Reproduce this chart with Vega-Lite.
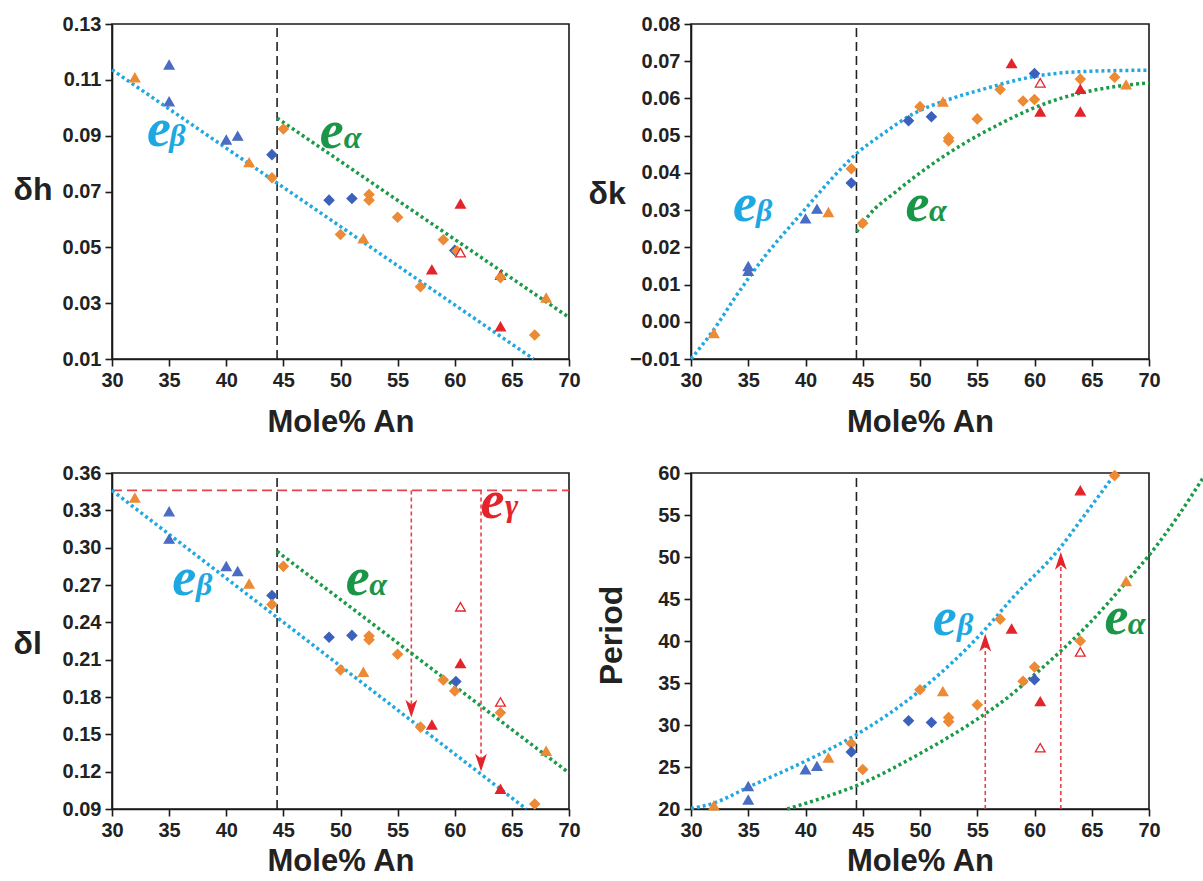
{
"$schema":"https://vega.github.io/schema/vega-lite/v6.json",
"background":"white",
"padding":{"left":12,"top":13,"right":5,"bottom":5},
"config":{
 "view":{"stroke":"#1a1a1a","strokeWidth":1.6},
 "axis":{"grid":false,"domainColor":"#1a1a1a","domainWidth":1.6,"tickColor":"#1a1a1a","tickWidth":1.6,"tickSize":7,"labelFont":"Liberation Sans","labelFontSize":20,"labelFontWeight":"bold","labelColor":"#222","labelPadding":4,"labelOverlap":false,"titleFont":"Liberation Sans","titleFontSize":31,"titleFontWeight":"bold","titleColor":"#222"},
 "axisX":{"titlePadding":17,"labelFlush":false},
 "axisY":{"titleFontSize":32}
},
"datasets":{
 "pts":[
  {"panel":"dh","kind":"oT","x":32,"y":0.1108},{"panel":"dh","kind":"bT","x":35,"y":0.1154},{"panel":"dh","kind":"bT","x":35,"y":0.1022},{"panel":"dh","kind":"bT","x":40,"y":0.0885},{"panel":"dh","kind":"bT","x":41,"y":0.0899},{"panel":"dh","kind":"oT","x":42,"y":0.0804},{"panel":"dh","kind":"bD","x":44,"y":0.0832},{"panel":"dh","kind":"oD","x":44,"y":0.0749},{"panel":"dh","kind":"oD","x":45,"y":0.0924},{"panel":"dh","kind":"bD","x":49,"y":0.0669},{"panel":"dh","kind":"bD","x":51,"y":0.0675},{"panel":"dh","kind":"oD","x":52.5,"y":0.0689},{"panel":"dh","kind":"oD","x":52.5,"y":0.0669},{"panel":"dh","kind":"oD","x":50,"y":0.0546},{"panel":"dh","kind":"oT","x":52,"y":0.0531},{"panel":"dh","kind":"oD","x":55,"y":0.0608},{"panel":"dh","kind":"oD","x":57,"y":0.0359},{"panel":"dh","kind":"rT","x":58,"y":0.042},{"panel":"dh","kind":"oD","x":59,"y":0.0527},{"panel":"dh","kind":"bD","x":60,"y":0.0489},{"panel":"dh","kind":"oD","x":60.2,"y":0.0487},{"panel":"dh","kind":"rO","x":60.5,"y":0.0481},{"panel":"dh","kind":"rT","x":60.5,"y":0.0656},{"panel":"dh","kind":"rT","x":64,"y":0.040},{"panel":"dh","kind":"oD","x":64,"y":0.0391},{"panel":"dh","kind":"rT","x":64,"y":0.0216},{"panel":"dh","kind":"oD","x":67,"y":0.0186},{"panel":"dh","kind":"oT","x":68,"y":0.0319},
  {"panel":"dk","kind":"oT","x":32,"y":-0.0031},{"panel":"dk","kind":"bT","x":35,"y":0.0149},{"panel":"dk","kind":"bT","x":35,"y":0.0136},{"panel":"dk","kind":"bT","x":40,"y":0.0277},{"panel":"dk","kind":"bT","x":41,"y":0.0303},{"panel":"dk","kind":"oT","x":42,"y":0.0294},{"panel":"dk","kind":"oD","x":44,"y":0.0411},{"panel":"dk","kind":"bD","x":44,"y":0.0373},{"panel":"dk","kind":"oD","x":45,"y":0.0265},{"panel":"dk","kind":"bD","x":49,"y":0.054},{"panel":"dk","kind":"bD","x":51,"y":0.0551},{"panel":"dk","kind":"oD","x":50,"y":0.0578},{"panel":"dk","kind":"oT","x":52,"y":0.0591},{"panel":"dk","kind":"oD","x":52.5,"y":0.0494},{"panel":"dk","kind":"oD","x":52.5,"y":0.0486},{"panel":"dk","kind":"oD","x":55,"y":0.0545},{"panel":"dk","kind":"oD","x":57,"y":0.0624},{"panel":"dk","kind":"rT","x":58,"y":0.0694},{"panel":"dk","kind":"oD","x":59,"y":0.0593},{"panel":"dk","kind":"oD","x":60,"y":0.0597},{"panel":"dk","kind":"bD","x":60,"y":0.0667},{"panel":"dk","kind":"rO","x":60.5,"y":0.0642},{"panel":"dk","kind":"rT","x":60.5,"y":0.0564},{"panel":"dk","kind":"oD","x":64,"y":0.0652},{"panel":"dk","kind":"rT","x":64,"y":0.0625},{"panel":"dk","kind":"rT","x":64,"y":0.0564},{"panel":"dk","kind":"oD","x":67,"y":0.0657},{"panel":"dk","kind":"oT","x":68,"y":0.0637},
  {"panel":"dl","kind":"oT","x":32,"y":0.340},{"panel":"dl","kind":"bT","x":35,"y":0.329},{"panel":"dl","kind":"bT","x":35,"y":0.307},{"panel":"dl","kind":"bT","x":40,"y":0.285},{"panel":"dl","kind":"bT","x":41,"y":0.281},{"panel":"dl","kind":"oT","x":42,"y":0.271},{"panel":"dl","kind":"bD","x":44,"y":0.2616},{"panel":"dl","kind":"oD","x":44,"y":0.2544},{"panel":"dl","kind":"oD","x":45,"y":0.285},{"panel":"dl","kind":"bD","x":49,"y":0.228},{"panel":"dl","kind":"bD","x":51,"y":0.2295},{"panel":"dl","kind":"oD","x":52.5,"y":0.229},{"panel":"dl","kind":"oD","x":52.5,"y":0.226},{"panel":"dl","kind":"oD","x":50,"y":0.2017},{"panel":"dl","kind":"oT","x":52,"y":0.200},{"panel":"dl","kind":"oD","x":55,"y":0.2143},{"panel":"dl","kind":"oD","x":57,"y":0.1558},{"panel":"dl","kind":"rT","x":58,"y":0.1576},{"panel":"dl","kind":"oD","x":59,"y":0.1937},{"panel":"dl","kind":"bD","x":60.1,"y":0.1924},{"panel":"dl","kind":"oD","x":60,"y":0.1849},{"panel":"dl","kind":"rT","x":60.5,"y":0.207},{"panel":"dl","kind":"rO","x":60.5,"y":0.2525},{"panel":"dl","kind":"rO","x":64,"y":0.176},{"panel":"dl","kind":"oD","x":64,"y":0.1673},{"panel":"dl","kind":"rT","x":64,"y":0.106},{"panel":"dl","kind":"oD","x":67,"y":0.094},{"panel":"dl","kind":"oT","x":68,"y":0.1365},
  {"panel":"per","kind":"oT","x":32,"y":20.4},{"panel":"per","kind":"bT","x":35,"y":22.7},{"panel":"per","kind":"bT","x":35,"y":21.1},{"panel":"per","kind":"bT","x":40,"y":24.7},{"panel":"per","kind":"bT","x":41,"y":25.1},{"panel":"per","kind":"oT","x":42,"y":26.1},{"panel":"per","kind":"oD","x":44,"y":27.8},{"panel":"per","kind":"bD","x":44,"y":26.8},{"panel":"per","kind":"oD","x":45,"y":24.7},{"panel":"per","kind":"bD","x":49,"y":30.5},{"panel":"per","kind":"bD","x":51,"y":30.3},{"panel":"per","kind":"oD","x":50,"y":34.2},{"panel":"per","kind":"oT","x":52,"y":34.0},{"panel":"per","kind":"oD","x":52.5,"y":30.9},{"panel":"per","kind":"oD","x":52.5,"y":30.4},{"panel":"per","kind":"oD","x":55,"y":32.4},{"panel":"per","kind":"oD","x":57,"y":42.6},{"panel":"per","kind":"rT","x":58,"y":41.45},{"panel":"per","kind":"oD","x":59,"y":35.2},{"panel":"per","kind":"oD","x":60,"y":36.9},{"panel":"per","kind":"bD","x":60,"y":35.4},{"panel":"per","kind":"rT","x":60.5,"y":32.8},{"panel":"per","kind":"rO","x":60.5,"y":27.3},{"panel":"per","kind":"rT","x":64,"y":57.9},{"panel":"per","kind":"oD","x":64,"y":40.0},{"panel":"per","kind":"rO","x":64,"y":38.7},{"panel":"per","kind":"oD","x":67,"y":59.7},{"panel":"per","kind":"oT","x":68,"y":47.1}
 ],
 "fits":[
  {"panel":"dh","fit":"beta","x":30,"y":0.1136},{"panel":"dh","fit":"beta","x":66.9,"y":0.01},
  {"panel":"dh","fit":"alpha","x":44.45,"y":0.0963},{"panel":"dh","fit":"alpha","x":70,"y":0.0249},
  {"panel":"dk","fit":"beta","x":30,"y":-0.01},{"panel":"dk","fit":"beta","x":32.04,"y":-0.0019},{"panel":"dk","fit":"beta","x":33.78,"y":0.0062},{"panel":"dk","fit":"beta","x":36.4,"y":0.0174},{"panel":"dk","fit":"beta","x":37.85,"y":0.0228},{"panel":"dk","fit":"beta","x":39.89,"y":0.030},{"panel":"dk","fit":"beta","x":41.64,"y":0.0362},{"panel":"dk","fit":"beta","x":44.46,"y":0.0452},{"panel":"dk","fit":"beta","x":46.58,"y":0.0501},{"panel":"dk","fit":"beta","x":49.49,"y":0.056},{"panel":"dk","fit":"beta","x":52.4,"y":0.0596},{"panel":"dk","fit":"beta","x":55.31,"y":0.0623},{"panel":"dk","fit":"beta","x":59.96,"y":0.0659},{"panel":"dk","fit":"beta","x":64.04,"y":0.0672},{"panel":"dk","fit":"beta","x":70,"y":0.0676},
  {"panel":"dk","fit":"alpha","x":44.46,"y":0.0241},{"panel":"dk","fit":"alpha","x":45.42,"y":0.0282},{"panel":"dk","fit":"alpha","x":48.04,"y":0.0353},{"panel":"dk","fit":"alpha","x":50.95,"y":0.0421},{"panel":"dk","fit":"alpha","x":53.85,"y":0.0479},{"panel":"dk","fit":"alpha","x":56.76,"y":0.0528},{"panel":"dk","fit":"alpha","x":59.67,"y":0.0571},{"panel":"dk","fit":"alpha","x":62.58,"y":0.0603},{"panel":"dk","fit":"alpha","x":65.49,"y":0.0624},{"panel":"dk","fit":"alpha","x":70,"y":0.0642},
  {"panel":"dl","fit":"beta","x":30,"y":0.346},{"panel":"dl","fit":"beta","x":66.26,"y":0.09},
  {"panel":"dl","fit":"alpha","x":44.45,"y":0.297},{"panel":"dl","fit":"alpha","x":70,"y":0.119},
  {"panel":"per","fit":"beta","x":30,"y":20.05},{"panel":"per","fit":"beta","x":32,"y":20.7},{"panel":"per","fit":"beta","x":35,"y":22.6},{"panel":"per","fit":"beta","x":40,"y":25.7},{"panel":"per","fit":"beta","x":44.5,"y":28.9},{"panel":"per","fit":"beta","x":50,"y":34.1},{"panel":"per","fit":"beta","x":55.7,"y":41.4},{"panel":"per","fit":"beta","x":58,"y":45.0},{"panel":"per","fit":"beta","x":62.3,"y":51.2},{"panel":"per","fit":"beta","x":64,"y":54.3},{"panel":"per","fit":"beta","x":67.1,"y":60},
  {"panel":"per","fit":"alpha","x":38.4,"y":20},{"panel":"per","fit":"alpha","x":41,"y":21.1},{"panel":"per","fit":"alpha","x":44.5,"y":22.8},{"panel":"per","fit":"alpha","x":50,"y":26.6},{"panel":"per","fit":"alpha","x":55,"y":30.7},{"panel":"per","fit":"alpha","x":57.5,"y":33.1},{"panel":"per","fit":"alpha","x":60,"y":36.0},{"panel":"per","fit":"alpha","x":62.3,"y":38.8},{"panel":"per","fit":"alpha","x":65,"y":42.4},{"panel":"per","fit":"alpha","x":68,"y":47.0},{"panel":"per","fit":"alpha","x":70,"y":50.2},{"panel":"per","fit":"alpha","x":72.5,"y":54.8},{"panel":"per","fit":"alpha","x":74.8,"y":59.6}
 ],
 "labels":[
  {"panel":"dh","part":"e","fit":"beta","t":"e","x":34.11,"y":0.0863},{"panel":"dh","part":"sub","fit":"beta","t":"β","x":35.02,"y":0.0863},
  {"panel":"dh","part":"e","fit":"alpha","t":"e","x":49.23,"y":0.0857},{"panel":"dh","part":"sub","fit":"alpha","t":"α","x":50.28,"y":0.0857},
  {"panel":"dk","part":"e","fit":"beta","t":"e","x":34.72,"y":0.02707},{"panel":"dk","part":"sub","fit":"beta","t":"β","x":35.68,"y":0.02707},
  {"panel":"dk","part":"e","fit":"alpha","t":"e","x":49.77,"y":0.02707},{"panel":"dk","part":"sub","fit":"alpha","t":"α","x":50.79,"y":0.02707},
  {"panel":"dl","part":"e","fit":"beta","t":"e","x":36.33,"y":0.2617},{"panel":"dl","part":"sub","fit":"beta","t":"β","x":37.35,"y":0.2617},
  {"panel":"dl","part":"e","fit":"alpha","t":"e","x":51.5,"y":0.2617},{"panel":"dl","part":"sub","fit":"alpha","t":"α","x":52.52,"y":0.2617},
  {"panel":"dl","part":"e","fit":"gamma","t":"e","x":63.3,"y":0.3241},{"panel":"dl","part":"sub","fit":"gamma","t":"γ","x":64.4,"y":0.3257},
  {"panel":"per","part":"e","fit":"beta","t":"e","x":52.17,"y":40.66},{"panel":"per","part":"sub","fit":"beta","t":"β","x":53.23,"y":40.66},
  {"panel":"per","part":"e","fit":"alpha","t":"e","x":67.15,"y":40.86},{"panel":"per","part":"sub","fit":"alpha","t":"α","x":68.14,"y":40.86}
 ],
 "guides":[
  {"panel":"dh","g":"vdash","x":44.45,"y":0.01,"y2":0.13},
  {"panel":"dk","g":"vdash","x":44.45,"y":-0.01,"y2":0.08},
  {"panel":"dl","g":"vdash","x":44.45,"y":0.09,"y2":0.36},
  {"panel":"per","g":"vdash","x":44.45,"y":20,"y2":60},
  {"panel":"dl","g":"hdash","x":30,"x2":70,"y":0.346},
  {"panel":"dl","g":"vdot","x":56.2,"y":0.346,"y2":0.172},
  {"panel":"dl","g":"vdot","x":62.3,"y":0.346,"y2":0.129},
  {"panel":"dl","g":"tipdown","x":56.2,"y":0.1635},
  {"panel":"dl","g":"tipdown","x":62.3,"y":0.1202},
  {"panel":"per","g":"vdot","x":55.7,"y":20,"y2":39.5},
  {"panel":"per","g":"vdot","x":62.3,"y":20,"y2":49.3},
  {"panel":"per","g":"tipup","x":55.7,"y":40.85},
  {"panel":"per","g":"tipup","x":62.3,"y":50.6}
 ]
},
"columns":2,
"spacing":{"row":114,"column":122},
"bounds":"flush",
"concat":[
 {
  "width":457,"height":335,
  "encoding":{
   "x":{"field":"x","type":"quantitative","scale":{"domain":[30,70],"nice":false,"zero":false},"axis":{"values":[30,35,40,45,50,55,60,65,70],"title":"Mole% An"}},
   "y":{"field":"y","type":"quantitative","scale":{"domain":[0.01,0.13],"nice":false,"zero":false},"axis":{"values":[0.01,0.03,0.05,0.07,0.09,0.11,0.13],"format":".2f","title":"δh","titleAngle":0,"titleAlign":"left","titleBaseline":"middle","titleX":-99,"titleY":165}}
  },
  "layer":[
   {"data":{"name":"guides"},"transform":[{"filter":"datum.panel==='dh' && datum.g==='vdash'"}],"mark":{"type":"rule","color":"#222","strokeWidth":1.6,"strokeDash":[9,5]},"encoding":{"y2":{"field":"y2"}}},
   {"data":{"name":"fits"},"transform":[{"filter":"datum.panel==='dh' && datum.fit==='beta'"}],"mark":{"type":"line","color":"#22a8e0","strokeWidth":3.5,"strokeDash":[3,3]},"encoding":{}},
   {"data":{"name":"fits"},"transform":[{"filter":"datum.panel==='dh' && datum.fit==='alpha'"}],"mark":{"type":"line","color":"#1b9a48","strokeWidth":3.5,"strokeDash":[3,3]},"encoding":{}},
   {"data":{"name":"pts"},"transform":[{"filter":"datum.panel==='dh'"}],"mark":{"type":"point","filled":true,"size":95,"strokeWidth":1.3,"opacity":1},
    "encoding":{
     "shape":{"field":"kind","type":"nominal","scale":{"domain":["bT","bD","oD","oT","rT","rO"],"range":["triangle-up","diamond","diamond","triangle-up","triangle-up","triangle-up"]},"legend":null},
     "fill":{"field":"kind","type":"nominal","scale":{"domain":["bT","bD","oD","oT","rT","rO"],"range":["#4a6cc2","#3c61bc","#ec8a35","#ec8a35","#e3242b","#ffffff"]},"legend":null},
     "stroke":{"field":"kind","type":"nominal","scale":{"domain":["bT","bD","oD","oT","rT","rO"],"range":["#4a6cc2","#3c61bc","#ec8a35","#ec8a35","#e3242b","#e3242b"]},"legend":null}}},
   {"data":{"name":"labels"},"transform":[{"filter":"datum.panel==='dh' && datum.part==='e'"}],"mark":{"type":"text","font":"Liberation Serif","fontStyle":"italic","fontWeight":"bold","fontSize":54,"align":"center","baseline":"alphabetic"},
    "encoding":{"text":{"field":"t"},"color":{"field":"fit","type":"nominal","scale":{"domain":["beta","alpha","gamma"],"range":["#1ea8e2","#1a9648","#e3242b"]},"legend":null}}},
   {"data":{"name":"labels"},"transform":[{"filter":"datum.panel==='dh' && datum.part==='sub'"}],"mark":{"type":"text","font":"Liberation Serif","fontStyle":"italic","fontWeight":"bold","fontSize":32,"align":"left","baseline":"alphabetic"},
    "encoding":{"text":{"field":"t"},"color":{"field":"fit","type":"nominal","scale":{"domain":["beta","alpha","gamma"],"range":["#1ea8e2","#1a9648","#e3242b"]},"legend":null}}}
  ]
 },
 {
  "width":458,"height":335,
  "encoding":{
   "x":{"field":"x","type":"quantitative","scale":{"domain":[30,70],"nice":false,"zero":false},"axis":{"values":[30,35,40,45,50,55,60,65,70],"title":"Mole% An"}},
   "y":{"field":"y","type":"quantitative","scale":{"domain":[-0.01,0.08],"nice":false,"zero":false},"axis":{"values":[-0.01,0,0.01,0.02,0.03,0.04,0.05,0.06,0.07,0.08],"format":".2f","title":"δk","titleAngle":0,"titleAlign":"left","titleBaseline":"middle","titleX":-103,"titleY":169}}
  },
  "layer":[
   {"data":{"name":"guides"},"transform":[{"filter":"datum.panel==='dk' && datum.g==='vdash'"}],"mark":{"type":"rule","color":"#222","strokeWidth":1.6,"strokeDash":[9,5]},"encoding":{"y2":{"field":"y2"}}},
   {"data":{"name":"fits"},"transform":[{"filter":"datum.panel==='dk' && datum.fit==='beta'"}],"mark":{"type":"line","color":"#22a8e0","strokeWidth":3.5,"strokeDash":[3,3],"interpolate":"monotone"},"encoding":{}},
   {"data":{"name":"fits"},"transform":[{"filter":"datum.panel==='dk' && datum.fit==='alpha'"}],"mark":{"type":"line","color":"#1b9a48","strokeWidth":3.5,"strokeDash":[3,3],"interpolate":"monotone"},"encoding":{}},
   {"data":{"name":"pts"},"transform":[{"filter":"datum.panel==='dk'"}],"mark":{"type":"point","filled":true,"size":95,"strokeWidth":1.3,"opacity":1},
    "encoding":{
     "shape":{"field":"kind","type":"nominal","scale":{"domain":["bT","bD","oD","oT","rT","rO"],"range":["triangle-up","diamond","diamond","triangle-up","triangle-up","triangle-up"]},"legend":null},
     "fill":{"field":"kind","type":"nominal","scale":{"domain":["bT","bD","oD","oT","rT","rO"],"range":["#4a6cc2","#3c61bc","#ec8a35","#ec8a35","#e3242b","#ffffff"]},"legend":null},
     "stroke":{"field":"kind","type":"nominal","scale":{"domain":["bT","bD","oD","oT","rT","rO"],"range":["#4a6cc2","#3c61bc","#ec8a35","#ec8a35","#e3242b","#e3242b"]},"legend":null}}},
   {"data":{"name":"labels"},"transform":[{"filter":"datum.panel==='dk' && datum.part==='e'"}],"mark":{"type":"text","font":"Liberation Serif","fontStyle":"italic","fontWeight":"bold","fontSize":54,"align":"center","baseline":"alphabetic"},
    "encoding":{"text":{"field":"t"},"color":{"field":"fit","type":"nominal","scale":{"domain":["beta","alpha","gamma"],"range":["#1ea8e2","#1a9648","#e3242b"]},"legend":null}}},
   {"data":{"name":"labels"},"transform":[{"filter":"datum.panel==='dk' && datum.part==='sub'"}],"mark":{"type":"text","font":"Liberation Serif","fontStyle":"italic","fontWeight":"bold","fontSize":32,"align":"left","baseline":"alphabetic"},
    "encoding":{"text":{"field":"t"},"color":{"field":"fit","type":"nominal","scale":{"domain":["beta","alpha","gamma"],"range":["#1ea8e2","#1a9648","#e3242b"]},"legend":null}}}
  ]
 },
 {
  "width":457,"height":336,
  "encoding":{
   "x":{"field":"x","type":"quantitative","scale":{"domain":[30,70],"nice":false,"zero":false},"axis":{"values":[30,35,40,45,50,55,60,65,70],"title":"Mole% An","titlePadding":6}},
   "y":{"field":"y","type":"quantitative","scale":{"domain":[0.09,0.36],"nice":false,"zero":false},"axis":{"values":[0.09,0.12,0.15,0.18,0.21,0.24,0.27,0.30,0.33,0.36],"format":".2f","title":"δl","titleAngle":0,"titleAlign":"left","titleBaseline":"middle","titleX":-99,"titleY":170}}
  },
  "layer":[
   {"data":{"name":"guides"},"transform":[{"filter":"datum.panel==='dl' && datum.g==='vdash'"}],"mark":{"type":"rule","color":"#222","strokeWidth":1.6,"strokeDash":[9,5]},"encoding":{"y2":{"field":"y2"}}},
   {"data":{"name":"guides"},"transform":[{"filter":"datum.panel==='dl' && datum.g==='hdash'"}],"mark":{"type":"rule","color":"#e8434a","strokeWidth":1.6,"strokeDash":[10,5]},"encoding":{"x2":{"field":"x2"}}},
   {"data":{"name":"guides"},"transform":[{"filter":"datum.panel==='dl' && datum.g==='vdot'"}],"mark":{"type":"rule","color":"#e8434a","strokeWidth":1.6,"strokeDash":[4,3]},"encoding":{"y2":{"field":"y2"}}},
   {"data":{"name":"fits"},"transform":[{"filter":"datum.panel==='dl' && datum.fit==='beta'"}],"mark":{"type":"line","color":"#22a8e0","strokeWidth":3.5,"strokeDash":[3,3]},"encoding":{}},
   {"data":{"name":"fits"},"transform":[{"filter":"datum.panel==='dl' && datum.fit==='alpha'"}],"mark":{"type":"line","color":"#1b9a48","strokeWidth":3.5,"strokeDash":[3,3]},"encoding":{}},
   {"data":{"name":"guides"},"transform":[{"filter":"datum.panel==='dl' && datum.g==='tipdown'"}],"mark":{"type":"point","shape":"M0,0L-0.5,-1.5L0,-1.1L0.5,-1.5Z","filled":true,"color":"#e3242b","size":560,"opacity":1,"strokeWidth":0},"encoding":{}},
   {"data":{"name":"pts"},"transform":[{"filter":"datum.panel==='dl'"}],"mark":{"type":"point","filled":true,"size":95,"strokeWidth":1.3,"opacity":1},
    "encoding":{
     "shape":{"field":"kind","type":"nominal","scale":{"domain":["bT","bD","oD","oT","rT","rO"],"range":["triangle-up","diamond","diamond","triangle-up","triangle-up","triangle-up"]},"legend":null},
     "fill":{"field":"kind","type":"nominal","scale":{"domain":["bT","bD","oD","oT","rT","rO"],"range":["#4a6cc2","#3c61bc","#ec8a35","#ec8a35","#e3242b","#ffffff"]},"legend":null},
     "stroke":{"field":"kind","type":"nominal","scale":{"domain":["bT","bD","oD","oT","rT","rO"],"range":["#4a6cc2","#3c61bc","#ec8a35","#ec8a35","#e3242b","#e3242b"]},"legend":null}}},
   {"data":{"name":"labels"},"transform":[{"filter":"datum.panel==='dl' && datum.part==='e'"}],"mark":{"type":"text","font":"Liberation Serif","fontStyle":"italic","fontWeight":"bold","fontSize":54,"align":"center","baseline":"alphabetic"},
    "encoding":{"text":{"field":"t"},"color":{"field":"fit","type":"nominal","scale":{"domain":["beta","alpha","gamma"],"range":["#1ea8e2","#1a9648","#e3242b"]},"legend":null}}},
   {"data":{"name":"labels"},"transform":[{"filter":"datum.panel==='dl' && datum.part==='sub'"}],"mark":{"type":"text","font":"Liberation Serif","fontStyle":"italic","fontWeight":"bold","fontSize":32,"align":"left","baseline":"alphabetic"},
    "encoding":{"text":{"field":"t"},"color":{"field":"fit","type":"nominal","scale":{"domain":["beta","alpha","gamma"],"range":["#1ea8e2","#1a9648","#e3242b"]},"legend":null}}}
  ]
 },
 {
  "width":458,"height":336,
  "encoding":{
   "x":{"field":"x","type":"quantitative","scale":{"domain":[30,70],"nice":false,"zero":false},"axis":{"values":[30,35,40,45,50,55,60,65,70],"title":"Mole% An","titlePadding":6}},
   "y":{"field":"y","type":"quantitative","scale":{"domain":[20,60],"nice":false,"zero":false},"axis":{"values":[20,25,30,35,40,45,50,55,60],"title":"Period","titleAngle":-90,"titleAlign":"center","titleBaseline":"middle","titleX":-80,"titleY":162}}
  },
  "layer":[
   {"data":{"name":"guides"},"transform":[{"filter":"datum.panel==='per' && datum.g==='vdash'"}],"mark":{"type":"rule","color":"#222","strokeWidth":1.6,"strokeDash":[9,5]},"encoding":{"y2":{"field":"y2"}}},
   {"data":{"name":"guides"},"transform":[{"filter":"datum.panel==='per' && datum.g==='vdot'"}],"mark":{"type":"rule","color":"#e8434a","strokeWidth":1.6,"strokeDash":[4,3]},"encoding":{"y2":{"field":"y2"}}},
   {"data":{"name":"fits"},"transform":[{"filter":"datum.panel==='per' && datum.fit==='beta'"}],"mark":{"type":"line","color":"#22a8e0","strokeWidth":3.5,"strokeDash":[3,3],"interpolate":"monotone"},"encoding":{}},
   {"data":{"name":"fits"},"transform":[{"filter":"datum.panel==='per' && datum.fit==='alpha'"}],"mark":{"type":"line","color":"#1b9a48","strokeWidth":3.5,"strokeDash":[3,3],"interpolate":"monotone","clip":false},"encoding":{}},
   {"data":{"name":"guides"},"transform":[{"filter":"datum.panel==='per' && datum.g==='tipup'"}],"mark":{"type":"point","shape":"M0,0L-0.5,1.5L0,1.1L0.5,1.5Z","filled":true,"color":"#e3242b","size":560,"opacity":1,"strokeWidth":0},"encoding":{}},
   {"data":{"name":"pts"},"transform":[{"filter":"datum.panel==='per'"}],"mark":{"type":"point","filled":true,"size":95,"strokeWidth":1.3,"opacity":1},
    "encoding":{
     "shape":{"field":"kind","type":"nominal","scale":{"domain":["bT","bD","oD","oT","rT","rO"],"range":["triangle-up","diamond","diamond","triangle-up","triangle-up","triangle-up"]},"legend":null},
     "fill":{"field":"kind","type":"nominal","scale":{"domain":["bT","bD","oD","oT","rT","rO"],"range":["#4a6cc2","#3c61bc","#ec8a35","#ec8a35","#e3242b","#ffffff"]},"legend":null},
     "stroke":{"field":"kind","type":"nominal","scale":{"domain":["bT","bD","oD","oT","rT","rO"],"range":["#4a6cc2","#3c61bc","#ec8a35","#ec8a35","#e3242b","#e3242b"]},"legend":null}}},
   {"data":{"name":"labels"},"transform":[{"filter":"datum.panel==='per' && datum.part==='e'"}],"mark":{"type":"text","font":"Liberation Serif","fontStyle":"italic","fontWeight":"bold","fontSize":54,"align":"center","baseline":"alphabetic"},
    "encoding":{"text":{"field":"t"},"color":{"field":"fit","type":"nominal","scale":{"domain":["beta","alpha","gamma"],"range":["#1ea8e2","#1a9648","#e3242b"]},"legend":null}}},
   {"data":{"name":"labels"},"transform":[{"filter":"datum.panel==='per' && datum.part==='sub'"}],"mark":{"type":"text","font":"Liberation Serif","fontStyle":"italic","fontWeight":"bold","fontSize":32,"align":"left","baseline":"alphabetic"},
    "encoding":{"text":{"field":"t"},"color":{"field":"fit","type":"nominal","scale":{"domain":["beta","alpha","gamma"],"range":["#1ea8e2","#1a9648","#e3242b"]},"legend":null}}}
  ]
 }
]
}
